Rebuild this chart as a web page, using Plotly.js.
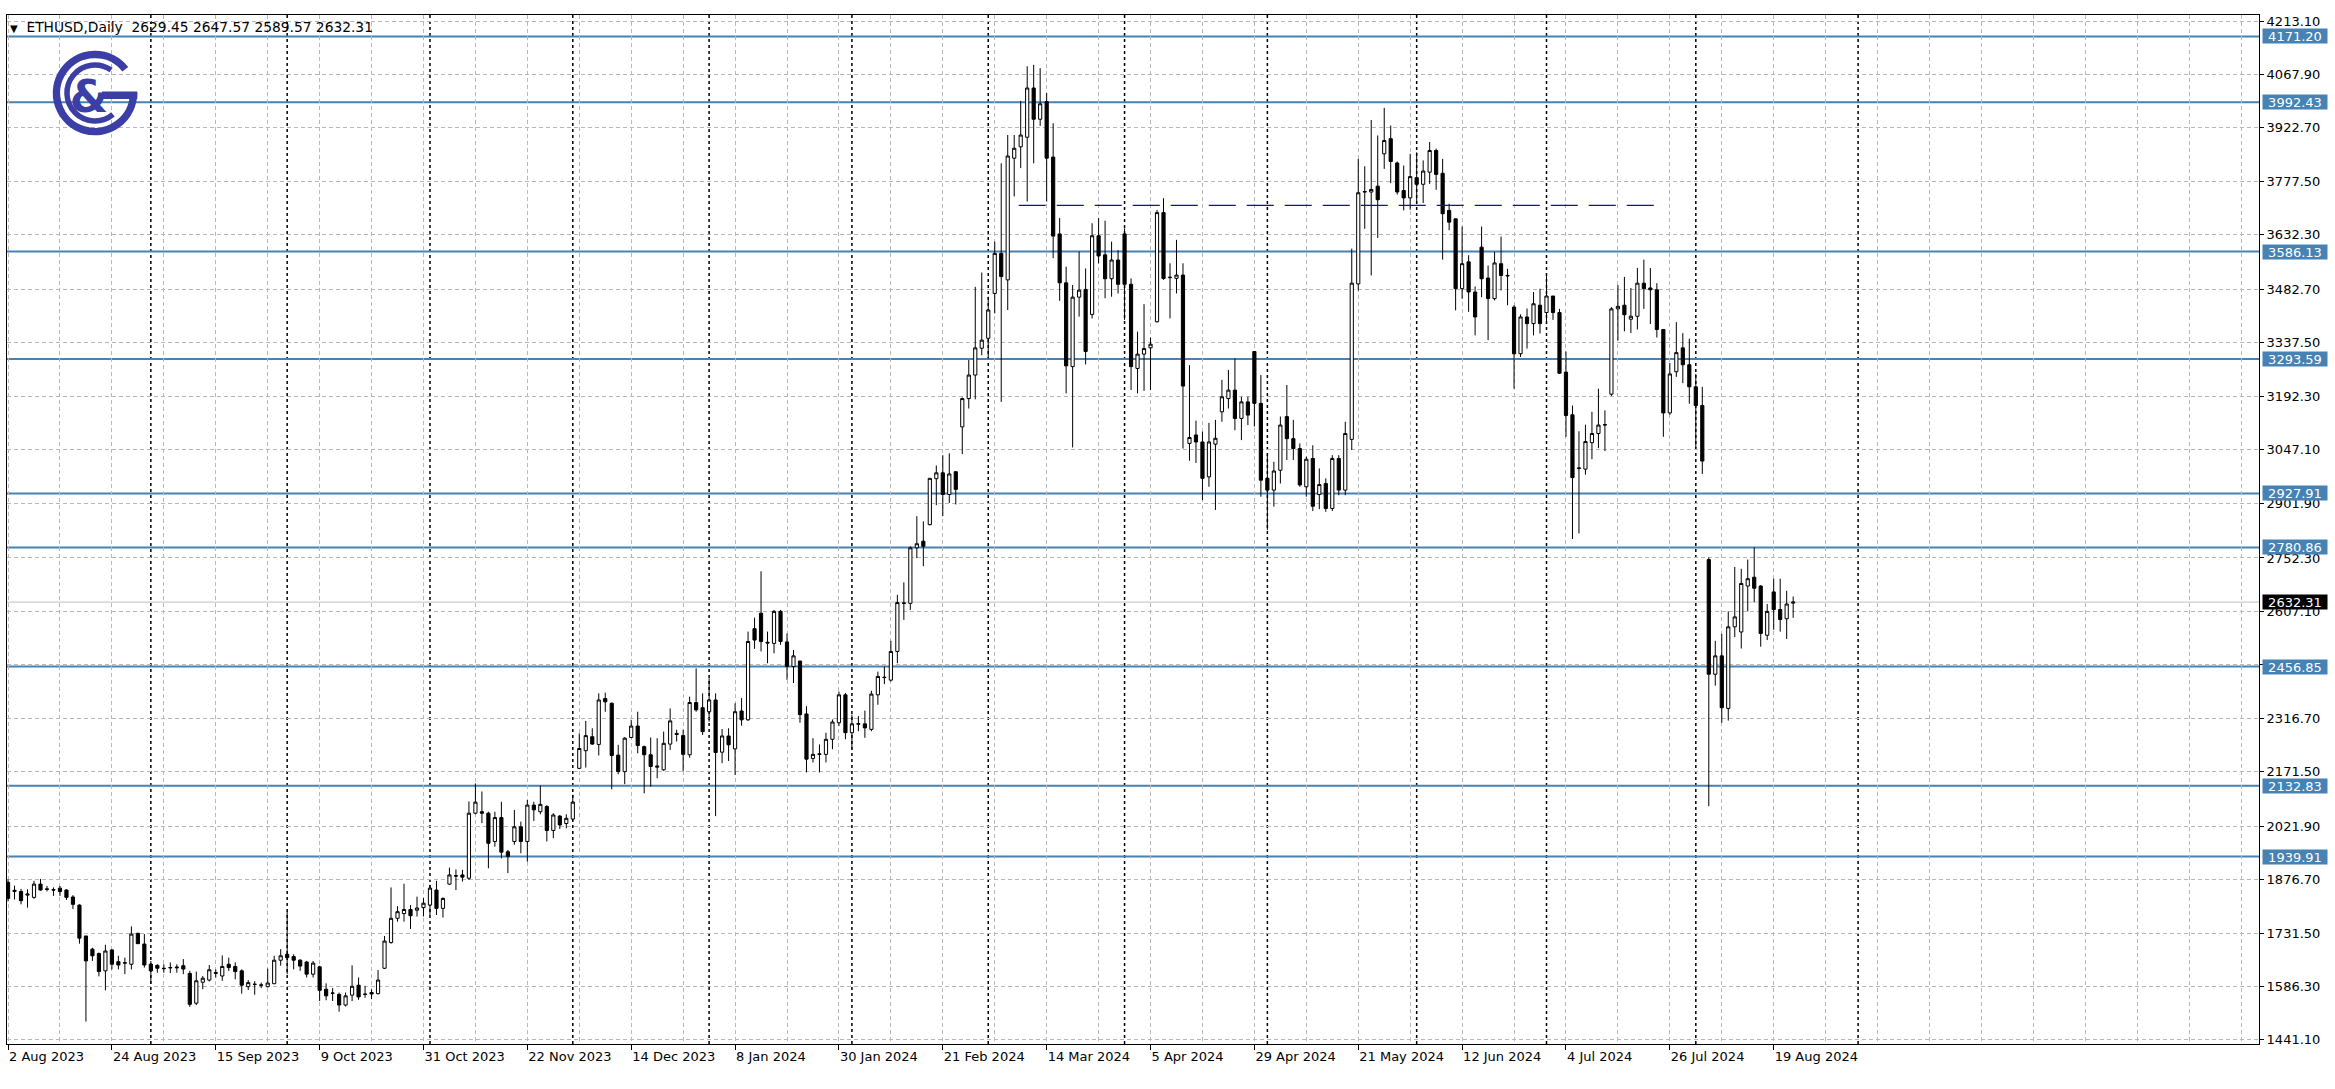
<!DOCTYPE html>
<html><head><meta charset="utf-8">
<script src="https://cdn.plot.ly/plotly-3.0.1.min.js"></script>
<style>html,body{margin:0;padding:0;background:#fff;overflow:hidden}#chart{width:2335px;height:1089px}</style>
</head><body><div id="chart"></div>
<script>
// ---- data (weekday bars, index 0 = 2 Aug 2023) ----
const open = [1870,1845,1845,1835,1829,1865,1852,1850,1854,1849,1830,1808,1724,1688,1676,1629,1686,1654,1650,1647,
1731,1702,1647,1644,1636,1637,1637,1643,1622,1541,1598,1604,1622,1615,1647,1641,1629,1586,1592,1590,
1586,1594,1658,1674,1668,1658,1653,1620,1640,1579,1568,1565,1536,1563,1590,1566,1570,1567,1636,1706,
1772,1785,1796,1794,1801,1808,1849,1799,1865,1888,1890,1881,2058,2062,2058,1981,2046,1953,1981,2021,
1981,2080,2062,2076,2011,2050,2030,2042,2180,2228,2266,2245,2370,2357,2216,2171,2264,2295,2239,2217,
2183,2176,2246,2275,2269,2217,2359,2345,2334,2366,2224,2268,2233,2336,2312,2560,2602,2523,2520,2607,
2524,2457,2472,2328,2207,2218,2218,2259,2304,2380,2277,2300,2301,2286,2380,2428,2420,2498,2630,2629,
2780,2798,2843,2968,2984,2925,2987,3109,3186,3250,3323,3350,3472,3581,3509,3840,3871,3897,4031,3946,
3994,3843,3634,3501,3273,3462,3483,3415,3629,3577,3512,3563,3634,3497,3268,3307,3324,3395,3692,3515,
3513,3522,3064,3087,3068,2973,3062,3150,3186,3209,3132,3177,3314,3173,2969,2937,2991,3137,3077,3050,
2946,3023,2925,2955,2887,3023,2937,3075,3498,3748,3748,3764,3852,3893,3827,3752,3732,3787,3769,3802,
3861,3799,3698,3675,3485,3558,3476,3598,3514,3458,3553,3521,3435,3308,3408,3390,3440,3420,3465,3420,
3258,3142,2996,2994,3066,3091,3114,3198,3430,3440,3402,3410,3500,3487,3482,3374,3147,3259,3324,3278,
3218,3167,2748,2436,2486,2343,2565,2551,2676,2700,2676,2542,2660,2612,2587,2629.45];
const high = [1878,1861,1852,1851,1874,1879,1860,1856,1860,1851,1835,1810,1724,1692,1679,1700,1688,1670,1665,1750,
1733,1729,1656,1647,1647,1652,1647,1661,1629,1627,1615,1645,1633,1671,1665,1652,1633,1604,1601,1597,
1635,1670,1688,1790,1674,1661,1656,1656,1643,1595,1582,1570,1570,1644,1611,1588,1579,1631,1724,1856,
1805,1866,1808,1831,1827,1863,1874,1829,1910,1905,1904,2090,2139,2117,2062,2062,2089,1958,2067,2035,
2094,2089,2133,2080,2058,2053,2055,2108,2275,2309,2289,2384,2386,2359,2244,2265,2312,2334,2242,2264,
2262,2280,2343,2285,2285,2375,2452,2384,2425,2384,2287,2289,2357,2371,2552,2590,2716,2552,2611,2611,
2547,2502,2472,2349,2262,2245,2277,2313,2389,2385,2326,2322,2337,2391,2443,2457,2527,2652,2686,2784,
2866,2852,2969,3004,3032,3037,2989,3189,3291,3490,3529,3463,3613,3826,3903,3903,3996,4090,4094,4085,
4017,3935,3677,3545,3495,3586,3540,3663,3677,3670,3613,3590,3649,3513,3368,3443,3352,3699,3731,3554,
3618,3554,3277,3126,3096,3120,3128,3237,3264,3295,3191,3191,3314,3250,3037,3014,3137,3223,3128,3064,
3028,3059,2996,2969,3032,3032,3123,3594,3838,3818,3944,3902,3977,3929,3831,3820,3852,3856,3834,3884,
3866,3838,3716,3675,3654,3576,3491,3654,3548,3585,3627,3539,3440,3415,3431,3476,3485,3521,3465,3430,
3314,3167,3097,3115,3150,3213,3154,3435,3495,3517,3487,3541,3564,3541,3500,3374,3283,3394,3364,3349,
3253,3218,2754,2527,2546,2607,2728,2723,2748,2781,2678,2627,2696,2696,2663,2647.57];
const low = [1818,1823,1810,1801,1825,1847,1845,1833,1833,1822,1797,1703,1491,1656,1614,1576,1633,1633,1620,1633,
1702,1638,1594,1624,1624,1623,1624,1620,1531,1536,1579,1600,1611,1602,1629,1606,1567,1577,1564,1582,
1584,1593,1643,1620,1633,1629,1611,1611,1547,1549,1547,1518,1532,1547,1550,1556,1552,1565,1634,1703,
1763,1763,1743,1777,1777,1781,1781,1774,1863,1849,1872,1876,2055,2031,1908,1967,1935,1895,1972,1949,
1926,2037,2055,1981,1990,2015,2017,2037,2178,2182,2244,2215,2334,2123,2164,2137,2262,2221,2112,2130,
2153,2173,2230,2253,2173,2209,2334,2271,2307,2050,2194,2200,2162,2296,2309,2505,2498,2466,2493,2516,
2421,2412,2304,2169,2196,2169,2196,2232,2295,2259,2232,2281,2263,2281,2353,2409,2416,2466,2584,2611,
2752,2730,2841,2896,2866,2902,2898,3035,3159,3184,3304,3295,3418,3177,3427,3736,3813,3722,3826,3928,
3722,3568,3452,3200,3053,3409,3279,3404,3554,3459,3463,3472,3400,3209,3200,3207,3209,3393,3509,3404,
3472,3050,3017,3011,2910,2946,2883,3123,3159,3100,3073,3114,3110,2919,2828,2892,2955,3019,3019,2946,
2919,2880,2885,2878,2880,2923,2923,3046,3480,3648,3521,3623,3811,3772,3741,3698,3700,3716,3718,3770,
3754,3564,3644,3426,3458,3422,3358,3462,3345,3453,3480,3440,3213,3299,3322,3358,3363,3389,3400,3253,
3082,2804,2819,2979,3021,3051,3043,3193,3344,3369,3364,3374,3430,3389,3352,3082,3142,3245,3228,3172,
3051,2981,2077,2405,2304,2310,2537,2506,2607,2632,2511,2529,2557,2552,2532,2589.57];
const close = [1826,1848,1820,1838,1865,1849,1851,1849,1845,1829,1810,1718,1656,1670,1627,1683,1647,1645,1651,1729,
1703,1645,1629,1636,1635,1638,1639,1634,1538,1602,1609,1632,1624,1641,1638,1627,1590,1597,1592.5,1590.5,
1596,1658,1670,1665,1658,1642,1620,1650,1576,1561,1568.5,1536,1561,1587,1558,1565,1566,1604,1710,1772,
1790,1796,1779,1800,1813,1854,1799,1826,1890,1887,1884,2058,2088,2058,1976,2046,1952,1940,2021,1981,
2080,2067,2082,2011,2053,2026,2044,2088,2234,2269,2246,2366,2361,2215,2171,2262,2295,2242,2217,2185,
2186,2248,2309,2272,2218,2359,2339,2280,2366,2223,2268,2244,2334,2312,2525,2529,2525,2521,2607,2525,
2457,2486,2326,2205,2218,2219,2259,2306,2380,2277,2301,2301.5,2290,2382,2430,2427,2498,2631,2629,2780,
2791,2784,2969,2984,2925,2981,2939,3186,3250,3324,3345,3427,3581,3518,3846,3867,3903,4031,3946,3988,
3840,3628,3501,3275,3462,3481,3314,3629,3574,3512,3563,3497,3497,3273,3307,3322,3334,3692,3513,3516,
3522,3220,3080,3068,2969,3068,3078,3191,3209,3132,3177,3141,3173,2964,2937,2989,3114,3077,3050,2951,
3021,2893,2952,2887,3023,2937,3091,3500,3746,3749,3755,3727,3888,3831,3748,3732,3790,3769,3805,3861,
3796,3689,3666,3485,3553,3476,3408,3512,3458,3555,3521,3520,3308,3408,3390,3444,3390,3465,3420,3255,
3140,2971,2997,3069,3091,3114,3115,3430,3437,3414,3410,3500,3485,3482,3374,3147,3253,3311,3278,3218,
3167,3016,2436,2486,2345,2565,2592,2683,2696,2670,2547,2607,2612,2585,2627,2632.31];

const xLabelIdx = [0,16,32,48,64,80,96,112,128,144,160,176,192,208,224,240,256,272];
const xLabels = ['2 Aug 2023','24 Aug 2023','15 Sep 2023','9 Oct 2023','31 Oct 2023','22 Nov 2023','14 Dec 2023',
  '8 Jan 2024','30 Jan 2024','21 Feb 2024','14 Mar 2024','5 Apr 2024','29 Apr 2024','21 May 2024','12 Jun 2024',
  '4 Jul 2024','26 Jul 2024','19 Aug 2024'];
const monthStartIdx = [22,43,65,87,108,130,151,172,194,217,237,260,285];
const yTickVals = [4213.10,4067.90,3922.70,3777.50,3632.30,3482.70,3337.50,3192.30,3047.10,2901.90,
  2752.30,2607.10,2461.90,2316.70,2171.50,2021.90,1876.70,1731.50,1586.30,1441.10];
const levelPrices = [4171.20,3992.43,3586.13,3293.59,2927.91,2780.86,2456.85,2132.83,1939.91];
const trendPrice = 3711.5, trendFromIdx = 155.7, trendToIdx = 255.0;
const symbolName = 'ETHUSD,Daily';

// ---- layout constants ----
const W = 2335, H = 1089, ML = 7, MR = 76, MT = 15, MB = 45;
const PW = W - ML - MR, PH = H - MT - MB;
const blue = '#4682b4', gridCol = '#b8b8b8', logoCol = '#3b3fa5';
const FONT = 'DejaVu Sans';

const barIndex = open.map((_, i) => i);
const last = open.length - 1;

const shapes = [];
monthStartIdx.forEach(ix => shapes.push({type:'line', xref:'x', yref:'paper', x0:ix, x1:ix, y0:0, y1:1,
  layer:'between', line:{color:'#000', width:1.5, dash:'3px,3px'}}));
levelPrices.forEach(p => shapes.push({type:'line', xref:'paper', yref:'y', x0:0, x1:1, y0:p, y1:p,
  layer:'between', line:{color:blue, width:2}}));
shapes.push({type:'line', xref:'paper', yref:'y', x0:0, x1:1, y0:close[last], y1:close[last],
  layer:'between', line:{color:'#c0c0c0', width:1}});
shapes.push({type:'line', xref:'x', yref:'y', x0:trendFromIdx, x1:trendToIdx, y0:trendPrice, y1:trendPrice,
  layer:'above', line:{color:'#15158a', width:1.3, dash:'27px,11px'}});

const annotations = [];
levelPrices.forEach(p => annotations.push({x:1, xref:'paper', xanchor:'left', xshift:3, y:p, yref:'y', yanchor:'middle',
  text:p.toFixed(2), showarrow:false, bgcolor:blue, width:64, height:14, borderpad:0,
  font:{family:FONT, size:13, color:'#fff'}}));
annotations.push({x:1, xref:'paper', xanchor:'left', xshift:3, y:close[last], yref:'y', yanchor:'middle',
  text:close[last].toFixed(2), showarrow:false, bgcolor:'#000', width:64, height:14, borderpad:0,
  font:{family:FONT, size:13, color:'#fff'}});
annotations.push({x:0, xref:'paper', xanchor:'left', xshift:1, y:1, yref:'paper', yanchor:'top', yshift:-2,
  showarrow:false, align:'left',
  text:'<span style="font-size:10px">▼</span>  ' + symbolName + '  ' +
    [open[last], high[last], low[last], close[last]].map(v => v.toFixed(2)).join(' '),
  font:{family:FONT, size:13.8, color:'#000'}});

// logo (C&G mark) as an inline SVG image
const logoSvg = '<svg xmlns="http://www.w3.org/2000/svg" viewBox="45 45 100 100" width="100" height="100">' +
  '<g fill="none" stroke="' + logoCol + '">' +
  '<path d="M125.3,69.3 A38.5,38.5 0 1 0 133.5,93" stroke-width="7.5"/>' +
  '<path d="M111.1,70.1 A28,28 0 1 0 113,114.4" stroke-width="5.5"/></g>' +
  '<rect x="102" y="91.5" width="35.3" height="7.5" fill="' + logoCol + '"/>' +
  '<text x="89" y="112" text-anchor="middle" font-family="DejaVu Sans" font-weight="bold" font-size="44" fill="' + logoCol + '">&amp;</text>' +
  '</svg>';
const logoSrc = 'data:image/svg+xml;charset=utf-8,' + encodeURIComponent(logoSvg);

const trace = {type:'candlestick', x:barIndex, open:open, high:high, low:low, close:close,
  increasing:{line:{color:'#000', width:1}, fillcolor:'#fff'},
  decreasing:{line:{color:'#000', width:1}, fillcolor:'#000'},
  whiskerwidth:0, hoverinfo:'skip', showlegend:false};

const layout = {
  width:W, height:H, margin:{l:ML, r:MR, t:MT, b:MB, pad:0},
  paper_bgcolor:'#fff', plot_bgcolor:'#fff', showlegend:false,
  font:{family:FONT, size:13, color:'#000'},
  boxgap:0.3, boxgroupgap:0.3,
  xaxis:{range:[-0.16, 346.76], tickmode:'array', tickvals:xLabelIdx, ticktext:xLabels,
    ticks:'outside', ticklen:5, tickcolor:'#000', ticklabelposition:'outside right',
    showgrid:true, gridcolor:gridCol, griddash:'4px,3px', gridwidth:1,
    minor:{dtick:8, tick0:0, showgrid:true, gridcolor:gridCol, griddash:'4px,3px', gridwidth:1, ticks:''},
    showline:true, linecolor:'#000', linewidth:1, mirror:true, zeroline:false,
    rangeslider:{visible:false}, fixedrange:true, tickfont:{family:FONT, size:13, color:'#000'}},
  yaxis:{side:'right', range:[1430, 4229.6], tickmode:'array', tickvals:yTickVals,
    ticktext:yTickVals.map(v => v.toFixed(2)), ticks:'outside', ticklen:4, tickcolor:'#000',
    showgrid:true, gridcolor:gridCol, griddash:'4px,3px', gridwidth:1,
    showline:true, linecolor:'#000', linewidth:1, mirror:true, zeroline:false, fixedrange:true,
    tickfont:{family:FONT, size:13, color:'#000'}},
  shapes:shapes, annotations:annotations,
  images:[{source:logoSrc, xref:'paper', yref:'paper', x:(45 - ML) / PW, y:1 - (45 - MT) / PH,
    sizex:100 / PW, sizey:100 / PH, xanchor:'left', yanchor:'top', sizing:'stretch', layer:'above'}]
};

Plotly.newPlot('chart', [trace], layout, {staticPlot:true, displayModeBar:false});
</script>
</body></html>
